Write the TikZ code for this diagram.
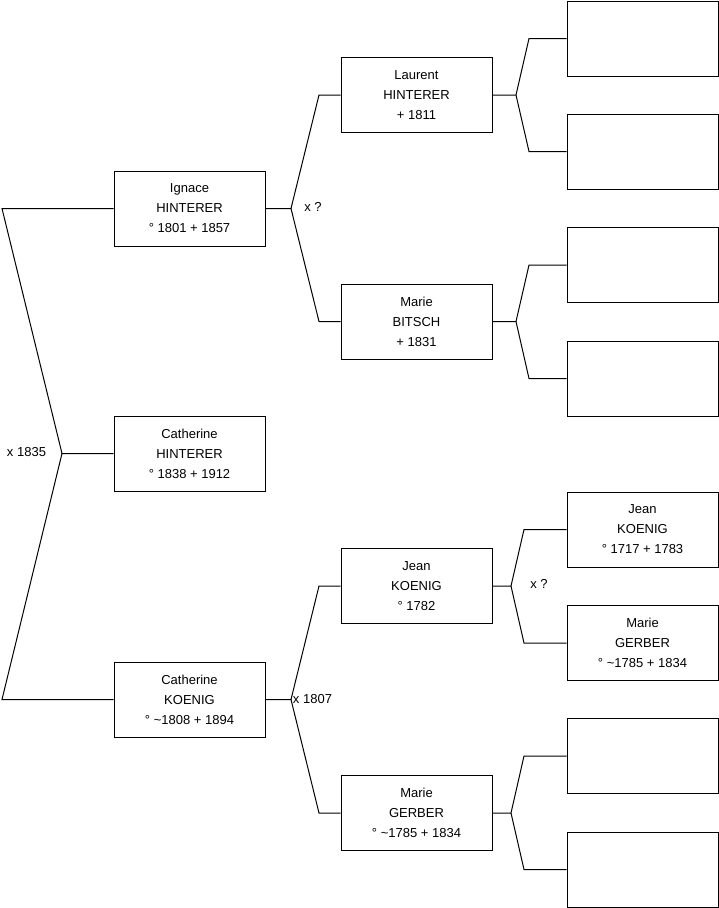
\documentclass[tikz,border=0pt]{standalone}
\usepackage{fontspec}
\setmainfont{Liberation Sans}
\begin{document}
\begin{tikzpicture}[x=1pt,y=-1pt,
  person/.style={draw=black, line width=1pt, minimum width=151pt, minimum height=75pt,
    inner sep=0pt, align=center, font=\fontsize{13}{20}\selectfont},
  link/.style={draw=black, line width=1pt},
  lbl/.style={font=\fontsize{13}{16}\selectfont, inner sep=0pt}]
\useasboundingbox (0,0) rectangle (719,908);

% column 1
\node[person] (ign)  at (189.5,208.5) {Ignace\\HINTERER\\° 1801 + 1857};
\node[person] (cath) at (189.5,453.5) {Catherine\\HINTERER\\° 1838 + 1912};
\node[person] (catk) at (189.5,699.5) {Catherine\\KOENIG\\° \textasciitilde1808 + 1894};

% column 2
\node[person] (lau) at (416.5,95)    {Laurent\\HINTERER\\+ 1811};
\node[person] (mab) at (416.5,321.5) {Marie\\BITSCH\\+ 1831};
\node[person] (jek) at (416.5,586)   {Jean\\KOENIG\\° 1782};
\node[person] (mag) at (416.5,813)   {Marie\\GERBER\\° \textasciitilde1785 + 1834};

% column 3
\node[person] (p1)  at (642.5,38.5)  {};
\node[person] (p2)  at (642.5,151.5) {};
\node[person] (p3)  at (642.5,265)   {};
\node[person] (p4)  at (642.5,378.5) {};
\node[person] (jk2) at (642.5,529.5) {Jean\\KOENIG\\° 1717 + 1783};
\node[person] (mg2) at (642.5,643)   {Marie\\GERBER\\° \textasciitilde1785 + 1834};
\node[person] (p7)  at (642.5,756)   {};
\node[person] (p8)  at (642.5,869.5) {};

% root connector
\coordinate (r1) at (2,208.5);
\coordinate (rv) at (62,453.5);
\coordinate (r2) at (2,699.5);
\draw[link] (ign.west) -- (r1) -- (rv) -- (cath.west);
\draw[link] (rv) -- (r2) -- (catk.west);

% Ignace parents
\coordinate (v1) at (291,208.5);
\coordinate (a1) at (319,95);
\coordinate (b1) at (319,321.5);
\draw[link] (ign.east) -- (v1) -- (a1) -- (lau.west);
\draw[link] (v1) -- (b1) -- (mab.west);

% Catherine KOENIG parents
\coordinate (v2) at (291,699.5);
\coordinate (a2) at (319,586);
\coordinate (b2) at (319,813);
\draw[link] (catk.east) -- (v2) -- (a2) -- (jek.west);
\draw[link] (v2) -- (b2) -- (mag.west);

% Laurent parents
\coordinate (v3) at (516,95);
\coordinate (a3) at (529,38.5);
\coordinate (b3) at (529,151.5);
\draw[link] (lau.east) -- (v3) -- (a3) -- (p1.west);
\draw[link] (v3) -- (b3) -- (p2.west);

% Marie BITSCH parents
\coordinate (v4) at (516,321.5);
\coordinate (a4) at (529,265);
\coordinate (b4) at (529,378.5);
\draw[link] (mab.east) -- (v4) -- (a4) -- (p3.west);
\draw[link] (v4) -- (b4) -- (p4.west);

% Jean KOENIG parents
\coordinate (v5) at (511,586);
\coordinate (a5) at (524,529.5);
\coordinate (b5) at (524,643);
\draw[link] (jek.east) -- (v5) -- (a5) -- (jk2.west);
\draw[link] (v5) -- (b5) -- (mg2.west);

% Marie GERBER parents
\coordinate (v6) at (511,813);
\coordinate (a6) at (524,756);
\coordinate (b6) at (524,869.5);
\draw[link] (mag.east) -- (v6) -- (a6) -- (p7.west);
\draw[link] (v6) -- (b6) -- (p8.west);

% marriage labels
\node[lbl] (m1) at (26.5,452) {x 1835};
\node[lbl] (m2) at (313,207)  {x ?};
\node[lbl] (m3) at (312.5,699) {x 1807};
\node[lbl] (m4) at (539,584)  {x ?};
\end{tikzpicture}
\end{document}
